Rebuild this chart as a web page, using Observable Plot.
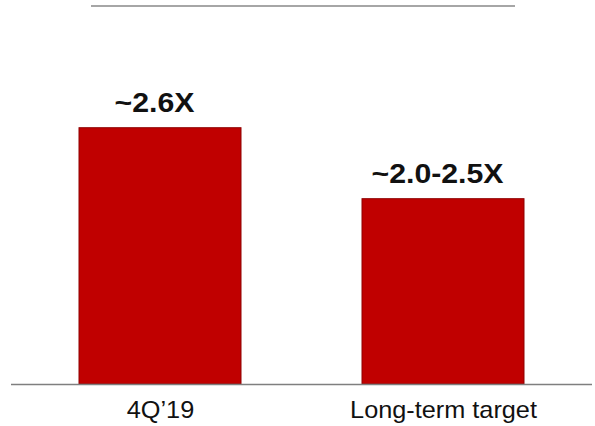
<!DOCTYPE html>
<html><head><meta charset="utf-8">
<script src="https://cdn.jsdelivr.net/npm/d3@7"></script>
<script src="https://cdn.jsdelivr.net/npm/@observablehq/plot@0.6"></script>
<style>
html,body{margin:0;padding:0;background:#fff;}
#wrap{position:relative;width:595px;height:426px;}
#topline{position:absolute;left:91px;top:5px;width:424px;height:0;border-top:2px solid #a6a6a6;}
</style></head><body>
<div id="wrap"><div id="topline"></div></div>
<script>
const categories = ["4Q’19", "Long-term target"];
const values = [2.6, 1.88];
const valueLabels = ["~2.6X", "~2.0-2.5X"];

const data = categories.map((c, i) => ({category: c, value: values[i], label: valueLabels[i]}));

const chart = Plot.plot({
  width: 595, height: 426,
  marginLeft: 11, marginRight: 3, marginTop: 39, marginBottom: 42,
  style: {fontFamily: "'Liberation Sans', Arial, sans-serif", background: "#fff"},
  x: {domain: categories, paddingInner: 0.427, paddingOuter: 0.238, label: null},
  y: {domain: [0, 3.5], axis: null},
  marks: [
    Plot.barY(data, {x: "category", y: "value", fill: "#c00000", stroke: "#8f0000", strokeWidth: 1}),
    Plot.ruleY([0], {stroke: "#7f7f7f", strokeWidth: 1.5}),
    Plot.text(data, {x: "category", y: "value", text: "label", lineAnchor: "bottom", dy: -16, dx: -6, fontSize: 28, fontWeight: "bold", fill: "#111", className: "vlab"}),
    Plot.axisX({tickSize: 0, tickPadding: 17, fontSize: 23, fill: "#111", label: null})
  ]
});
chart.querySelectorAll("text").forEach(t => {
  const tr = t.getAttribute("transform");
  const isV = t.closest(".vlab") !== null;
  if (tr && tr.includes("translate")) t.setAttribute("transform", tr + (isV ? " scale(1.08,1)" : " scale(1.1,1)"));
});
document.getElementById("wrap").prepend(chart);
</script>
</body></html>
